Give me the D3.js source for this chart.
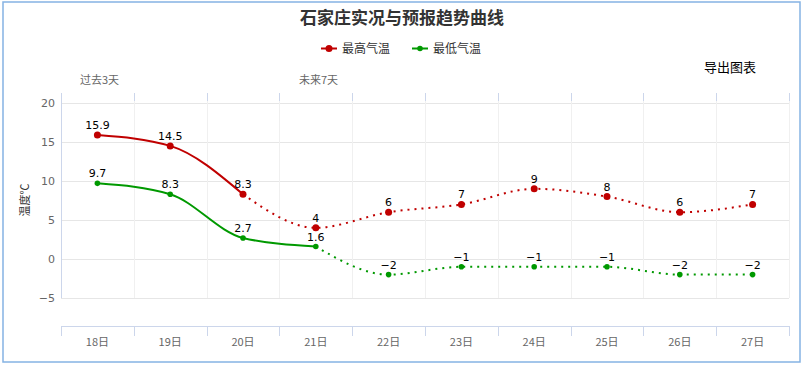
<!DOCTYPE html>
<html>
<head>
<meta charset="utf-8">
<script src="https://cdn.jsdelivr.net/npm/d3@7"></script>
<style>
  body { margin: 0; background: #fff; }
  text { font-family: "DejaVu Sans", "Noto Sans CJK SC", sans-serif; }
  .cjk { font-family: "Noto Sans CJK SC", sans-serif; }
</style>
</head>
<body>
<svg id="chart" width="804" height="367"></svg>
<script>
// data
const days = ["18日", "19日", "20日", "21日", "22日", "23日", "24日", "25日", "26日", "27日"];
const highTemps = [15.9, 14.5, 8.3, 4, 6, 7, 9, 8, 6, 7];
const lowTemps = [9.7, 8.3, 2.7, 1.6, -2, -1, -1, -1, -2, -2];
const yTicks = [-5, 0, 5, 10, 15, 20];
// index where observed part ends for each series
const highSolidEnd = 2;
const lowSolidEnd = 3;

const cfg = {
  left: 61, right: 789,
  top: 93, plotBottom: 298,
  xAxisY: 326,
  red: "#c00000",
  green: "#009900",
  gridColor: "#e6e6e6",
  axisColor: "#ccd6eb",
  labelColor: "#666",
};

const svg = d3.select("#chart");

// outer border
svg.append("rect")
  .attr("x", 3).attr("y", 2)
  .attr("width", 797).attr("height", 360)
  .attr("fill", "none")
  .attr("stroke", "#85b3e3")
  .attr("stroke-width", 1.5);

const x = d3.scaleBand().domain(days).range([cfg.left, cfg.right]);
const y = d3.scaleLinear().domain([-5, 20]).range([cfg.plotBottom, 103]);
const cx = (d) => x(d) + x.bandwidth() / 2;

// horizontal grid
svg.append("g")
  .selectAll("line")
  .data(yTicks)
  .join("line")
  .attr("x1", cfg.left).attr("x2", cfg.right)
  .attr("y1", (d) => Math.round(y(d)) + 0.5)
  .attr("y2", (d) => Math.round(y(d)) + 0.5)
  .attr("stroke", cfg.gridColor);

// vertical grid at band edges
const edges = days.map((d) => x(d)).concat([cfg.right]);
svg.append("g")
  .selectAll("line")
  .data(edges.slice(1))
  .join("line")
  .attr("x1", (d) => Math.round(d) + 0.5).attr("x2", (d) => Math.round(d) + 0.5)
  .attr("y1", cfg.top).attr("y2", cfg.plotBottom)
  .attr("stroke", "#f0f0f0");

// top tick marks
svg.append("g")
  .selectAll("line")
  .data(edges)
  .join("line")
  .attr("x1", (d) => Math.round(d) + 0.5).attr("x2", (d) => Math.round(d) + 0.5)
  .attr("y1", cfg.top).attr("y2", 101)
  .attr("stroke", cfg.axisColor);

// left axis line
svg.append("line")
  .attr("x1", cfg.left + 0.5).attr("x2", cfg.left + 0.5)
  .attr("y1", cfg.top).attr("y2", cfg.plotBottom)
  .attr("stroke", cfg.axisColor);

// y tick labels
svg.append("g")
  .selectAll("text")
  .data(yTicks)
  .join("text")
  .attr("x", 55)
  .attr("y", (d) => y(d) + 4)
  .attr("text-anchor", "end")
  .attr("font-size", 11)
  .attr("fill", cfg.labelColor)
  .text((d) => (d < 0 ? "\u2212" + Math.abs(d) : d));

// y axis title
svg.append("text")
  .attr("class", "cjk")
  .attr("transform", "translate(29,200) rotate(-90)")
  .attr("text-anchor", "middle")
  .attr("font-size", 11)
  .attr("fill", "#333")
  .text("温度℃");

// bottom x axis
const xAxis = svg.append("g")
  .attr("transform", `translate(0,${cfg.xAxisY})`)
  .call(d3.axisBottom(x).tickSize(0).tickPadding(10));
xAxis.select(".domain").attr("stroke", cfg.axisColor).attr("d", `M${cfg.left},0.5H${cfg.right}`);
xAxis.selectAll("text")
  .attr("class", "cjk")
  .attr("font-size", 11)
  .attr("fill", cfg.labelColor)
  .attr("dy", "0.9em");
xAxis.append("g")
  .selectAll("line")
  .data(edges)
  .join("line")
  .attr("x1", (d) => Math.round(d) + 0.5).attr("x2", (d) => Math.round(d) + 0.5)
  .attr("y1", 0).attr("y2", 10)
  .attr("stroke", cfg.axisColor);

// series
const series = [
  { name: "最高气温", values: highTemps, color: cfg.red, solidEnd: highSolidEnd, r: 3.5 },
  { name: "最低气温", values: lowTemps, color: cfg.green, solidEnd: lowSolidEnd, r: 2.8 },
];

const line = d3.line()
  .x((d) => cx(d.day))
  .y((d) => y(d.v))
  .curve(d3.curveMonotoneX);

series.forEach((s) => {
  const pts = s.values.map((v, i) => ({ day: days[i], v }));
  const g = svg.append("g");
  g.append("path")
    .attr("d", line(pts.slice(0, s.solidEnd + 1)))
    .attr("fill", "none")
    .attr("stroke", s.color)
    .attr("stroke-width", 2);
  g.append("path")
    .attr("d", line(pts.slice(s.solidEnd)))
    .attr("fill", "none")
    .attr("stroke", s.color)
    .attr("stroke-width", 2)
    .attr("stroke-dasharray", "2,5");
  g.selectAll("circle")
    .data(pts)
    .join("circle")
    .attr("cx", (d) => cx(d.day))
    .attr("cy", (d) => y(d.v))
    .attr("r", s.r)
    .attr("fill", s.color);
  g.selectAll("text")
    .data(pts)
    .join("text")
    .attr("x", (d) => cx(d.day))
    .attr("y", (d) => y(d.v) - 6)
    .attr("text-anchor", "middle")
    .attr("font-size", 11)
    .attr("fill", "#000")
    .text((d) => (d.v < 0 ? "\u2212" + Math.abs(d.v) : d.v));
});

// title
svg.append("text")
  .attr("class", "cjk")
  .attr("x", 402).attr("y", 24)
  .attr("text-anchor", "middle")
  .attr("font-size", 17)
  .attr("font-weight", "bold")
  .attr("fill", "#333")
  .text("石家庄实况与预报趋势曲线");

// legend
const legend = svg.append("g");
const legendX = [321, 412];
series.forEach((s, i) => {
  const lg = legend.append("g").attr("transform", `translate(${legendX[i]},48)`);
  lg.append("line")
    .attr("x1", 0).attr("x2", 16)
    .attr("y1", 0.5).attr("y2", 0.5)
    .attr("stroke", s.color).attr("stroke-width", 2);
  lg.append("circle").attr("cx", 8).attr("cy", 0.5).attr("r", s.r).attr("fill", s.color);
  lg.append("text")
    .attr("class", "cjk")
    .attr("x", 21).attr("y", 5)
    .attr("font-size", 12)
    .attr("fill", "#333")
    .text(s.name);
});

// export button text
svg.append("text")
  .attr("class", "cjk")
  .attr("x", 704).attr("y", 72)
  .attr("font-size", 13)
  .attr("fill", "#000")
  .text("导出图表");

// period labels
svg.append("text")
  .attr("class", "cjk")
  .attr("x", 80).attr("y", 84)
  .attr("font-size", 11)
  .attr("fill", cfg.labelColor)
  .text("过去3天");
svg.append("text")
  .attr("class", "cjk")
  .attr("x", 299).attr("y", 84)
  .attr("font-size", 11)
  .attr("fill", cfg.labelColor)
  .text("未来7天");
</script>
</body>
</html>
